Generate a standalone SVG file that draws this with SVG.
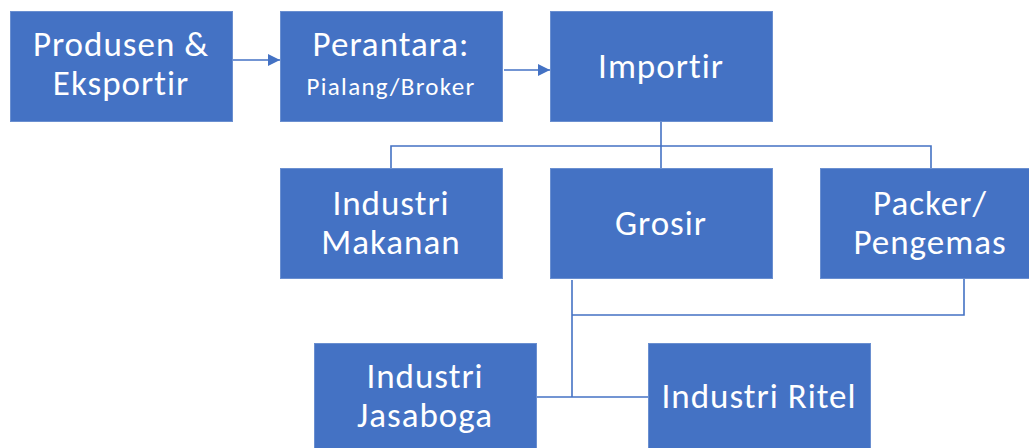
<svg xmlns="http://www.w3.org/2000/svg" width="1029" height="448" viewBox="0 0 1029 448">
<defs>
<style>
.box{fill:#4472C4;stroke:#6a8fd0;stroke-width:1}
.t{fill:#fff;font-family:Carlito,Lato,"Liberation Sans",sans-serif;font-size:35px;letter-spacing:1px;text-anchor:middle}
.s{font-size:25px;letter-spacing:1.3px}
.c{fill:none;stroke:#4472C4;stroke-width:1.6}
</style>
<marker id="ah" viewBox="0 0 10 10" refX="10" refY="5" markerWidth="12" markerHeight="12" markerUnits="userSpaceOnUse" orient="auto">
<path d="M0,0 L10,5 L0,10 z" fill="#4472C4"/>
</marker>
</defs>
<rect width="1029" height="448" fill="#fff"/>
<g id="connectors">
<line class="c" x1="233" y1="60" x2="280" y2="60" marker-end="url(#ah)"/>
<line class="c" x1="504" y1="70" x2="550" y2="70" marker-end="url(#ah)"/>
<polyline class="c" points="661,121 661,168"/>
<polyline class="c" points="391,168 391,146 931,146 931,168"/>
<polyline class="c" points="572,280 572,397"/>
<polyline class="c" points="964,279 964,315 572,315"/>
<polyline class="c" points="537,397 648,397"/>
</g>
<g id="produsen"><rect class="box" x="10.5" y="11.5" width="222" height="110"/><text class="t" x="121" y="56">Produsen &amp;</text><text class="t" x="121" y="95">Eksportir</text></g>
<g id="perantara"><rect class="box" x="280.5" y="11.5" width="222" height="110"/><text class="t" x="391" y="56">Perantara:</text><text class="t s" x="391" y="95">Pialang/Broker</text></g>
<g id="importir"><rect class="box" x="550.5" y="11.5" width="222" height="110"/><text class="t" x="661" y="78">Importir</text></g>
<g id="makanan"><rect class="box" x="280.5" y="168.5" width="222" height="110"/><text class="t" x="391" y="215">Industri</text><text class="t" x="391" y="254">Makanan</text></g>
<g id="grosir"><rect class="box" x="550.5" y="168.5" width="222" height="110"/><text class="t" x="661" y="235">Grosir</text></g>
<g id="packer"><rect class="box" x="820.5" y="168.5" width="222" height="110"/><text class="t" x="930" y="215">Packer/</text><text class="t" x="930" y="254">Pengemas</text></g>
<g id="jasaboga"><rect class="box" x="314.5" y="343.5" width="222" height="110"/><text class="t" x="425" y="388">Industri</text><text class="t" x="425" y="427">Jasaboga</text></g>
<g id="ritel"><rect class="box" x="648.5" y="343.5" width="222" height="110"/><text class="t" x="759" y="408">Industri Ritel</text></g>
</svg>
